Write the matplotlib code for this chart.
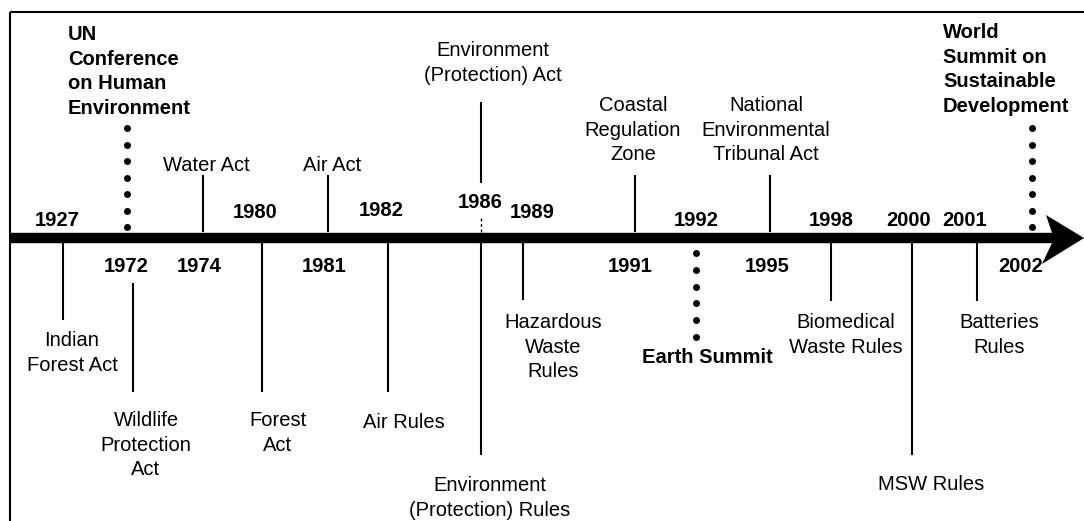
"""Timeline of Indian environmental legislation, 1927-2002."""

import matplotlib
matplotlib.use("Agg")
import matplotlib.pyplot as plt
import numpy as np

plt.rcParams["font.family"] = ["Liberation Sans", "DejaVu Sans"]

# ---------------------------------------------------------------------------
# Data
# ---------------------------------------------------------------------------

event_years = [1927, 1972, 1972, 1974, 1980, 1981, 1982, 1986, 1986,
               1989, 1991, 1992, 1995, 1998, 2000, 2001, 2002]
event_labels = [
    "Indian\nForest Act",
    "UN\nConference\non Human\nEnvironment",
    "Wildlife\nProtection\nAct",
    "Water Act",
    "Forest\nAct",
    "Air Act",
    "Air Rules",
    "Environment\n(Protection) Act",
    "Environment\n(Protection) Rules",
    "Hazardous\nWaste\nRules",
    "Coastal\nRegulation\nZone",
    "Earth Summit",
    "National\nEnvironmental\nTribunal Act",
    "Biomedical\nWaste Rules",
    "MSW Rules",
    "Batteries\nRules",
    "World\nSummit on\nSustainable\nDevelopment",
]
event_side = ["below", "above", "below", "above", "below", "above", "below", "above",
              "below", "below", "above", "below", "above", "below", "below", "below", "above"]
# international summits are drawn dotted and in bold
event_summit = [False, True, False, False, False, False, False, False, False,
                False, False, True, False, False, False, False, True]

year_labels = [1927, 1972, 1974, 1980, 1981, 1982, 1986, 1989,
               1991, 1992, 1995, 1998, 2000, 2001, 2002]
year_side = ["above", "below", "below", "above", "below", "above", "above", "above",
             "below", "above", "below", "above", "above", "above", "below"]

# ---------------------------------------------------------------------------
# Layout (schematic, in pixels of the 1084x521 canvas)
# ---------------------------------------------------------------------------

stem_x = [63, 127, 133, 203, 262, 328, 388, 481, 481, 523, 635, 696, 770, 831, 912, 977, 1032]
stem_span = [(243, 320), (128, 227), (283, 392), (175, 232), (243, 392), (175, 232),
             (243, 392), (102, 183), (243, 455), (243, 300), (175, 232), (253, 337),
             (175, 232), (243, 301), (243, 455), (243, 301), (128, 227)]
label_x = [72, 68, 146, 206, 278, 332, 404, 493, 490, 553, 633, 707, 766, 846, 931, 999, 943]
# vertical centre of the first line of each label
label_y = [338, 32, 418, 163, 418, 163, 420, 48, 483, 320, 103, 355, 103, 320, 482, 320, 30]

year_x = [57, 126, 199, 255, 324, 381, 480, 532, 630, 696, 767, 831, 909, 965, 1021]
year_y = [221, 267, 267, 212, 266, 211, 202, 212, 266, 220, 266, 220, 220, 220, 267]

AXIS_Y = 238
FS = 14.5


def main() -> None:
    fig = plt.figure(figsize=(10.84, 5.21), dpi=100)
    ax = fig.add_axes([0, 0, 1, 1])
    ax.set_xlim(0, 1084)
    ax.set_ylim(521, 0)
    ax.axis("off")

    # frame (top and left only)
    ax.plot([10, 1084], [12, 12], color="black", lw=1.5, solid_capstyle="butt")
    ax.plot([10, 10], [12, 521], color="black", lw=1.5, solid_capstyle="butt")

    # time axis with arrow head
    ax.plot([10, 1052], [AXIS_Y, AXIS_Y], color="black", lw=7.5, solid_capstyle="butt")
    ax.fill([1052, 1046, 1084, 1042, 1052], [233, 215, 238, 264, 243], color="black", lw=0)

    for x, (y0, y1), summit in zip(stem_x, stem_span, event_summit):
        if summit:
            ys = np.linspace(y0, y1, 7 if y1 - y0 > 90 else 6)
            ax.plot([x] * len(ys), ys, "o", color="black", ms=5, mew=0)
        else:
            ax.plot([x, x], [y0, y1], color="black", lw=1.5, solid_capstyle="butt")

    # short dashed tick between the 1986 stem and the axis
    ax.plot([481, 481], [218, 232], color="black", lw=1.0, ls=(0, (2, 2)))

    for lbl, x, y, summit in zip(event_labels, label_x, label_y, event_summit):
        left = summit and "\n" in lbl
        ax.text(x, y - 7, lbl, fontsize=FS, fontweight="bold" if summit else "normal",
                ha="left" if left else "center", va="top", linespacing=1.37,
                multialignment="left" if left else "center")

    for yr, x, y in zip(year_labels, year_x, year_y):
        ax.text(x, y, str(yr), fontsize=FS, fontweight="bold", ha="center", va="center")

    fig.savefig("out.png", dpi=100)
    plt.close(fig)


if __name__ == "__main__":
    main()
